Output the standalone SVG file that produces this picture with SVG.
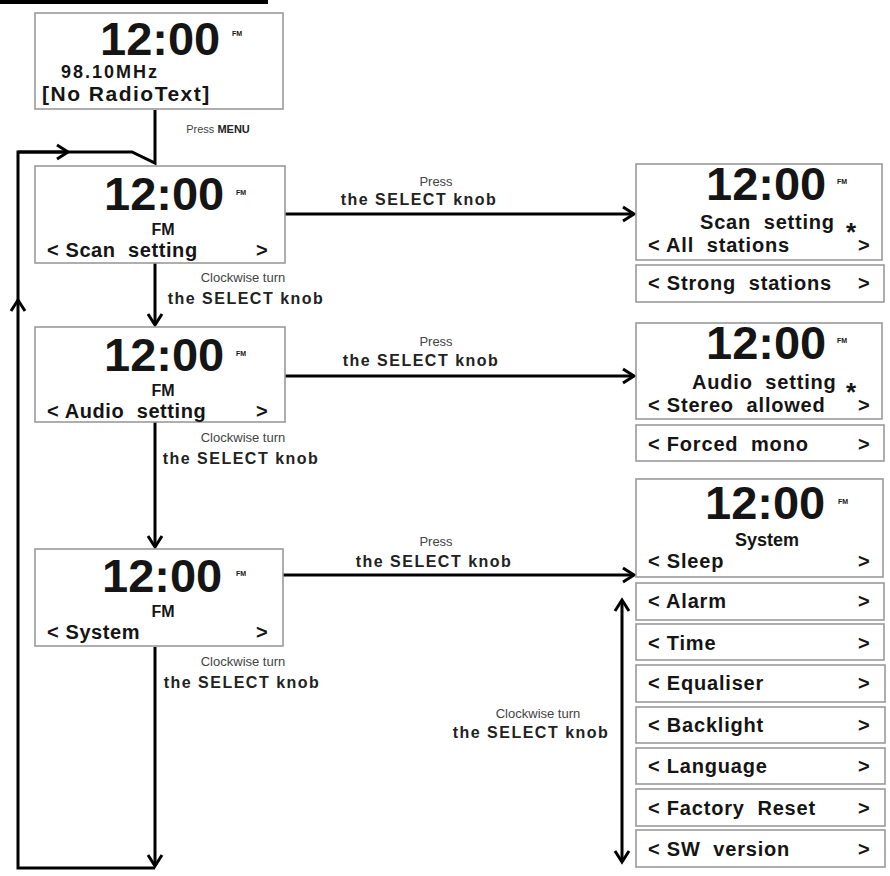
<svg xmlns="http://www.w3.org/2000/svg" width="890" height="876" viewBox="0 0 890 876">
<style>
.box{fill:#fff;stroke:#9a9a9a;stroke-width:1.6}
.t{font-family:"Liberation Sans",Arial,sans-serif;font-weight:bold;fill:#151515;white-space:pre}
.big{font-size:47px}
.sup{font-size:7px}
.fm{font-size:16px;text-anchor:middle}
.row{font-size:20px;letter-spacing:0.6px}
.r{font-size:20px;letter-spacing:0.8px}
.lbl{font-family:"Liberation Sans",Arial,sans-serif;font-size:13px;fill:#444;text-anchor:middle}
.sel{font-family:"Liberation Sans",Arial,sans-serif;font-size:16px;font-weight:bold;fill:#222;text-anchor:middle;letter-spacing:1.5px}
.ln{fill:none;stroke:#000;stroke-width:3}
</style>
<defs>
<marker id="ah" markerUnits="userSpaceOnUse" markerWidth="20" markerHeight="20" refX="12" refY="7" orient="auto-start-reverse" overflow="visible">
<path d="M1,0 L12,7 L1,14" fill="none" stroke="#000" stroke-width="3"/>
</marker>
</defs>
<rect x="0" y="0" width="268" height="4" fill="#000"/>

<g id="connectors">
<path class="ln" d="M155,110 V163 L132,152 H18 V300"/>
<path class="ln" d="M18,152 H68" marker-end="url(#ah)"/>
<path class="ln" d="M155,868 H18 V300" marker-end="url(#ah)"/>
<path class="ln" d="M155,647 V866" marker-end="url(#ah)"/>
<path class="ln" d="M155,263 V325" marker-end="url(#ah)"/>
<path class="ln" d="M155,422 V547" marker-end="url(#ah)"/>
<path class="ln" d="M285,214 H634" marker-end="url(#ah)"/>
<path class="ln" d="M285,376 H634" marker-end="url(#ah)"/>
<path class="ln" d="M283,575 H634" marker-end="url(#ah)"/>
<path class="ln" d="M622,600 V862" marker-start="url(#ah)" marker-end="url(#ah)"/>
<text x="218" y="133" class="lbl" style="font-size:11px"><tspan>Press </tspan><tspan font-weight="bold" fill="#222">MENU</tspan></text>
<text x="436" y="186" class="lbl">Press</text>
<text x="419" y="205" class="sel">the SELECT knob</text>
<text x="243" y="282" class="lbl">Clockwise turn</text>
<text x="246" y="304" class="sel">the SELECT knob</text>
<text x="436" y="346" class="lbl">Press</text>
<text x="421" y="366" class="sel">the SELECT knob</text>
<text x="243" y="442" class="lbl">Clockwise turn</text>
<text x="241" y="464" class="sel">the SELECT knob</text>
<text x="436" y="546" class="lbl">Press</text>
<text x="434" y="567" class="sel">the SELECT knob</text>
<text x="243" y="666" class="lbl">Clockwise turn</text>
<text x="242" y="688" class="sel">the SELECT knob</text>
<text x="538" y="718" class="lbl">Clockwise turn</text>
<text x="531" y="738" class="sel">the SELECT knob</text>
</g>

<g id="home">
<rect class="box" x="35" y="13" width="248" height="96"/>
<text x="100" y="55" class="t big">12:00</text>
<text x="232" y="36" class="t sup">FM</text>
<text x="61" y="78" class="t" style="font-size:18px;letter-spacing:2px">98.10MHz</text>
<text x="42" y="101" class="t" style="font-size:21px;letter-spacing:1.5px">[No RadioText]</text>
</g>

<g id="scan">
<rect class="box" x="35" y="166" width="250" height="97"/>
<text x="104" y="210" class="t big">12:00</text>
<text x="236" y="195" class="t sup">FM</text>
<text x="163" y="235" class="t fm">FM</text>
<text x="47" y="257" class="t row">&lt; Scan  setting</text>
<text x="256" y="257" class="t row">&gt;</text>
</g>

<g id="audio">
<rect class="box" x="35" y="327" width="250" height="95"/>
<text x="104" y="371" class="t big">12:00</text>
<text x="236" y="356" class="t sup">FM</text>
<text x="163" y="396" class="t fm">FM</text>
<text x="47" y="418" class="t row">&lt; Audio  setting</text>
<text x="256" y="418" class="t row">&gt;</text>
</g>

<g id="system">
<rect class="box" x="35" y="549" width="248" height="97"/>
<text x="102" y="592" class="t big">12:00</text>
<text x="236" y="576" class="t sup">FM</text>
<text x="163" y="617" class="t fm">FM</text>
<text x="47" y="639" class="t row">&lt; System</text>
<text x="256" y="639" class="t row">&gt;</text>
</g>

<g id="scan-setting">
<rect class="box" x="636" y="164" width="246" height="96"/>
<text x="706" y="200" class="t big">12:00</text>
<text x="837" y="184" class="t sup">FM</text>
<text x="700" y="229" class="t r">Scan  setting</text>
<text x="846" y="241" class="t" style="font-size:26px">*</text>
<text x="648" y="252" class="t r">&lt; All  stations</text>
<text x="858" y="252" class="t r">&gt;</text>
</g>
<g id="strong">
<rect class="box" x="636" y="265" width="248" height="37"/>
<text x="648" y="290" class="t r">&lt; Strong  stations</text>
<text x="858" y="290" class="t r">&gt;</text>
</g>

<g id="audio-setting">
<rect class="box" x="636" y="323" width="246" height="96"/>
<text x="706" y="359" class="t big">12:00</text>
<text x="837" y="343" class="t sup">FM</text>
<text x="692" y="389" class="t r">Audio  setting</text>
<text x="846" y="401" class="t" style="font-size:26px">*</text>
<text x="648" y="412" class="t r">&lt; Stereo  allowed</text>
<text x="858" y="412" class="t r">&gt;</text>
</g>
<g id="mono">
<rect class="box" x="636" y="425" width="248" height="36"/>
<text x="648" y="451" class="t r">&lt; Forced  mono</text>
<text x="858" y="451" class="t r">&gt;</text>
</g>

<g id="system-menu">
<rect class="box" x="636" y="479" width="247" height="98"/>
<text x="705" y="519" class="t big">12:00</text>
<text x="838" y="504" class="t sup">FM</text>
<text x="767" y="546" class="t fm" style="font-size:18px">System</text>
<text x="648" y="568" class="t r">&lt; Sleep</text>
<text x="858" y="568" class="t r">&gt;</text>
</g>
<g id="alarm">
<rect class="box" x="636" y="583" width="248" height="37"/>
<text x="648" y="608" class="t r">&lt; Alarm</text>
<text x="858" y="608" class="t r">&gt;</text>
</g>
<g id="time">
<rect class="box" x="636" y="624" width="248" height="36"/>
<text x="648" y="650" class="t r">&lt; Time</text>
<text x="858" y="650" class="t r">&gt;</text>
</g>
<g id="equaliser">
<rect class="box" x="636" y="665" width="249" height="37"/>
<text x="648" y="690" class="t r">&lt; Equaliser</text>
<text x="858" y="690" class="t r">&gt;</text>
</g>
<g id="backlight">
<rect class="box" x="636" y="707" width="249" height="36"/>
<text x="648" y="732" class="t r">&lt; Backlight</text>
<text x="858" y="732" class="t r">&gt;</text>
</g>
<g id="language">
<rect class="box" x="636" y="748" width="249" height="36"/>
<text x="648" y="773" class="t r">&lt; Language</text>
<text x="858" y="773" class="t r">&gt;</text>
</g>
<g id="factory">
<rect class="box" x="636" y="789" width="249" height="37"/>
<text x="648" y="815" class="t r">&lt; Factory  Reset</text>
<text x="858" y="815" class="t r">&gt;</text>
</g>
<g id="sw">
<rect class="box" x="636" y="830" width="249" height="37"/>
<text x="648" y="856" class="t r">&lt; SW  version</text>
<text x="858" y="856" class="t r">&gt;</text>
</g>
</svg>
